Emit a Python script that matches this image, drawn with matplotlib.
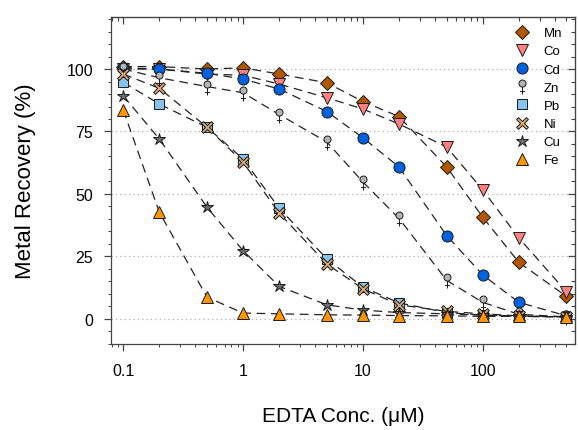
import numpy as np
import matplotlib
matplotlib.use('Agg')
import matplotlib.pyplot as plt
from matplotlib.path import Path
from matplotlib.ticker import FixedLocator, NullFormatter, MultipleLocator

plt.rcParams['font.family'] = ['Liberation Sans', 'DejaVu Sans']

# EDTA concentration (uM)
conc = [0.1, 0.2, 0.5, 1, 2, 5, 10, 20, 50, 100, 200, 500]

# metal recovery (%)
mn = [101, 101, 100, 100.5, 98, 94.5, 87, 81, 60.8, 40.7, 22.6, 9]
co = [100, 100, 98, 97.5, 94, 88.5, 84, 78, 68.8, 51.6, 32.4, 10.8]
cd = [100.5, 100, 98.3, 96, 92, 83, 72.5, 60.8, 33.3, 17.6, 6.6, 1.2]
zn = [100, 96.5, 93, 90.5, 81.8, 70.8, 54.8, 40.2, 15.4, 6.6, 1.8, 0.8]
pb = [94.7, 86, 76.7, 64, 44.3, 24, 12.7, 6.4, 2.5, 1.5, 1.0, 0.8]
ni = [98, 92.3, 76.7, 62.7, 42.3, 22, 12, 5.6, 3, 2, 1.2, 0.8]
cu = [89.3, 72, 44.7, 27.3, 13, 5.6, 3.5, 2.5, 2, 1.5, 1, 0.8]
fe = [83.6, 42.7, 8.7, 2.3, 2, 1.6, 1.5, 1.3, 1.2, 1, 1, 0.8]

labels = ['Mn', 'Co', 'Cd', 'Zn', 'Pb', 'Ni', 'Cu', 'Fe']

# female-sign style marker for Zn (circle with a cross below)
circ = Path.circle((0, 0.35), 0.42)
verts = list(circ.vertices) + [(0, -0.07), (0, -0.95), (-0.3, -0.6), (0.3, -0.6)]
codes = list(circ.codes) + [Path.MOVETO, Path.LINETO, Path.MOVETO, Path.LINETO]
female = Path(verts, codes)

# thin outlined X for Ni
t = 0.2
plus = [(t, 1), (t, t), (1, t), (1, -t), (t, -t), (t, -1), (-t, -1),
        (-t, -t), (-1, -t), (-1, t), (-t, t), (-t, 1), (t, 1)]
c45 = np.cos(np.pi / 4)
xv = [((a - b) * c45, (a + b) * c45) for a, b in plus]
thin_x = Path(xv, [Path.MOVETO] + [Path.LINETO] * 11 + [Path.CLOSEPOLY])

styles = [
    (mn, 'D', '#b35600', 7.2),
    (co, 'v', '#ff8080', 8.5),
    (cd, 'o', '#0062df', 8.0),
    (zn, female, '#b4b4b4', 11.5),
    (pb, 's', '#86c4ee', 7.2),
    (ni, thin_x, '#dcaa70', 8.5),
    (cu, '*', '#6e6e6e', 9.0),
    (fe, '^', '#ff9500', 8.5),
]

fig = plt.figure(figsize=(5.78, 4.31), dpi=100)
ax = fig.add_axes([0.192, 0.2, 0.803, 0.758])

for (vals, mk, col, ms), lab in zip(styles, labels):
    ax.plot(conc, vals, color='#222222', lw=0.9, dashes=(7, 4.5),
            marker=mk, markersize=ms, markerfacecolor=col,
            markeredgecolor='#1a1a1a', markeredgewidth=0.7, label=lab)

ax.set_xscale('log')
ax.set_xlim(0.079, 590)
ax.set_ylim(-10, 120.8)
ax.set_xticks([0.1, 1, 10, 100])
ax.set_xticklabels(['0.1', '1', '10', '100'])
ax.yaxis.set_major_locator(FixedLocator([0, 25, 50, 75, 100]))
ax.yaxis.set_minor_locator(MultipleLocator(5))
ax.xaxis.set_minor_formatter(NullFormatter())

for y in [0, 25, 50, 75, 100]:
    ax.axhline(y, color='#b0b0b0', lw=0.9, ls=(0, (1, 2.5)), zorder=0)

ax.tick_params(axis='both', which='both', direction='out', labelsize=11.5,
               top=False, right=False, color='#444444')
ax.tick_params(which='major', length=5, width=0.9)
ax.tick_params(which='minor', length=2.5, width=0.7)
ax.tick_params(axis='x', pad=9)
ax.tick_params(axis='y', pad=8)

# inward ticks on the top and right edges
sec_y = ax.secondary_yaxis('right')
sec_y.yaxis.set_major_locator(FixedLocator([0, 25, 50, 75, 100]))
sec_y.yaxis.set_minor_locator(MultipleLocator(5))
sec_y.tick_params(which='both', direction='in', labelright=False, color='#444444')
sec_y.tick_params(which='major', length=5, width=0.9)
sec_y.tick_params(which='minor', length=3, width=0.8)
sec_x = ax.secondary_xaxis('top')
sec_x.tick_params(which='both', direction='in', labeltop=False, color='#444444')
sec_x.tick_params(which='major', length=5, width=0.9)
sec_x.tick_params(which='minor', length=3, width=0.8)
sec_x.xaxis.set_minor_formatter(NullFormatter())
sec_x.set_xticks([0.1, 1, 10, 100])
sec_x.set_xticklabels([])

for sp in ax.spines.values():
    sp.set_color('#444444')
    sp.set_linewidth(0.9)

ax.set_xlabel('EDTA Conc. (\u03bcM)', fontsize=15, labelpad=20)
ax.set_ylabel('Metal Recovery (%)', fontsize=16, labelpad=22)

leg = ax.legend(loc='upper right', frameon=False, fontsize=9.5,
                handlelength=1.2, labelspacing=0.45, handletextpad=1.0,
                borderaxespad=0.6, bbox_to_anchor=(1.0, 1.01))
for line in leg.get_lines():
    line.set_linestyle('None')

fig.savefig('out.png', dpi=100)
